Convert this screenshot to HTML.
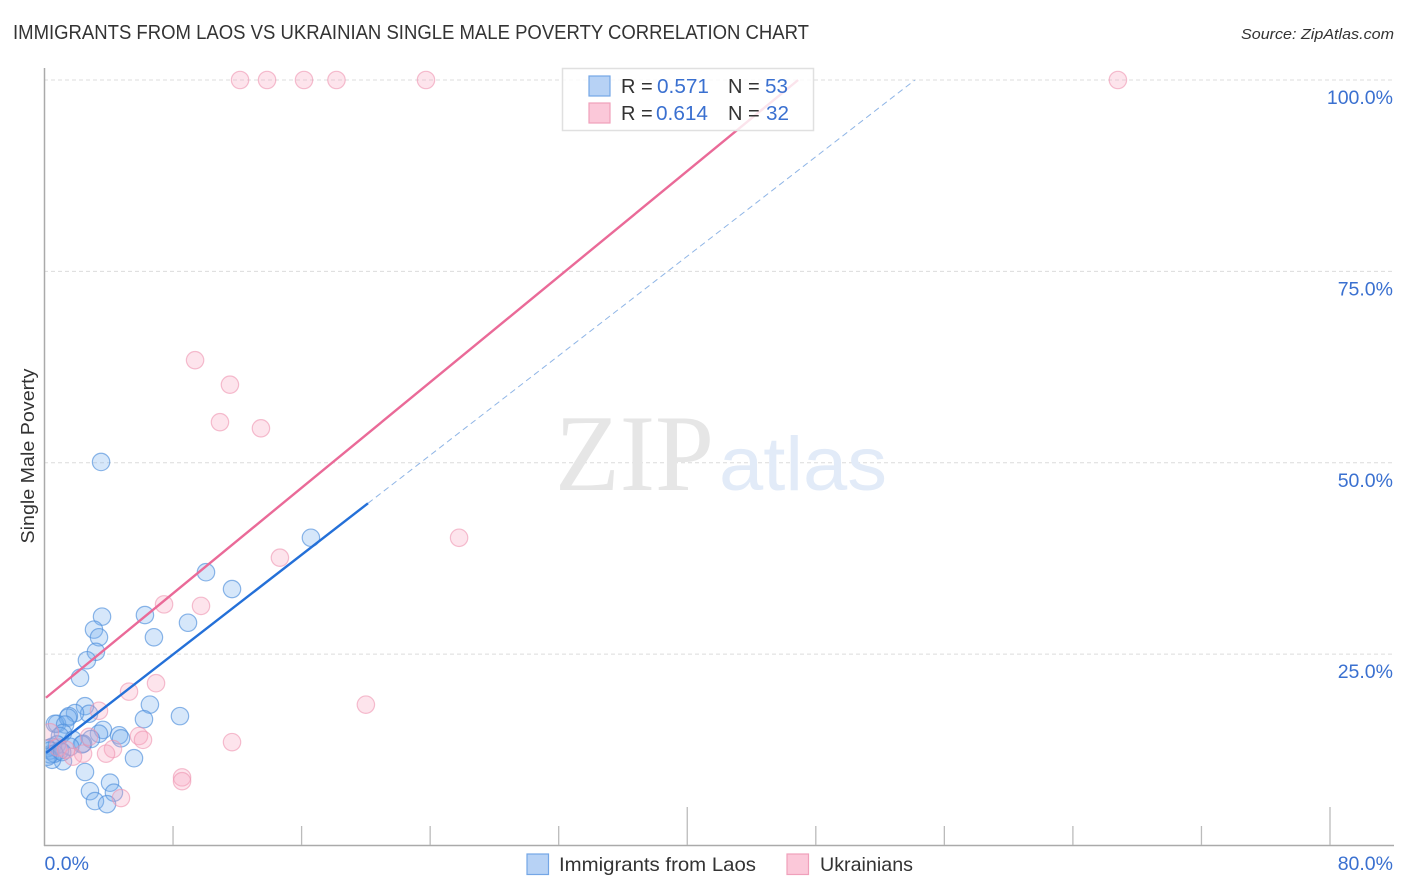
<!DOCTYPE html>
<html lang="en">
<head>
<meta charset="utf-8">
<title>Immigrants from Laos vs Ukrainian Single Male Poverty Correlation Chart</title>
<style>
html,body{margin:0;padding:0;background:#fff;width:1406px;height:892px;overflow:hidden}
svg{display:block}
text{font-family:"Liberation Sans",sans-serif}
</style>
</head>
<body>
<svg id="chart" xmlns="http://www.w3.org/2000/svg" width="1406" height="892" viewBox="0 0 1406 892">
  <defs>
    <clipPath id="plot-clip"><rect x="45.5" y="60" width="1349" height="785"/></clipPath>
  </defs>
  <rect x="0" y="0" width="1406" height="892" fill="#fff"/>
  <text x="13" y="39" font-size="20" fill="#333" textLength="796" lengthAdjust="spacingAndGlyphs">IMMIGRANTS FROM LAOS VS UKRAINIAN SINGLE MALE POVERTY CORRELATION CHART</text>
  <text x="1241" y="39" font-size="15" font-style="italic" fill="#333" textLength="153" lengthAdjust="spacingAndGlyphs">Source: ZipAtlas.com</text>
  <g id="grid"></g>
  <g>
    <text x="555" y="490" font-size="109" fill="#e6e6e6" textLength="159" lengthAdjust="spacingAndGlyphs" style="font-family:'Liberation Serif',serif">ZIP</text>
    <text x="719" y="490" font-size="76" fill="#e2ebf8" textLength="168" lengthAdjust="spacingAndGlyphs">atlas</text>
  </g>
  <g id="axes"></g>
  <g id="points" clip-path="url(#plot-clip)"></g>
  <g id="trends"></g>
  <g>
    <rect x="562.5" y="68.5" width="251" height="62" fill="#fff" fill-opacity="0.82" stroke="#e0e0e0" stroke-width="1.5"/>
    <rect x="589" y="76" width="21" height="20" fill="#b7d2f5" stroke="#74a6e6" stroke-width="1.2"/>
    <rect x="589" y="103" width="21" height="20" fill="#fbc8d9" stroke="#f0a0bb" stroke-width="1.2"/>
    <text x="621" y="93" font-size="20" fill="#333">R =</text>
    <text x="657" y="93" font-size="20.5" fill="#3a70d0" textLength="52" lengthAdjust="spacingAndGlyphs">0.571</text>
    <text x="728" y="93" font-size="20" fill="#333">N =</text>
    <text x="765" y="93" font-size="20.5" fill="#3a70d0" textLength="23" lengthAdjust="spacingAndGlyphs">53</text>
    <text x="621" y="120" font-size="20" fill="#333">R =</text>
    <text x="656" y="120" font-size="20.5" fill="#3a70d0" textLength="52" lengthAdjust="spacingAndGlyphs">0.614</text>
    <text x="728" y="120" font-size="20" fill="#333">N =</text>
    <text x="766" y="120" font-size="20.5" fill="#3a70d0" textLength="23" lengthAdjust="spacingAndGlyphs">32</text>
  </g>
  <text transform="translate(34 456) rotate(-90)" text-anchor="middle" font-size="18.5" fill="#333" textLength="175" lengthAdjust="spacingAndGlyphs">Single Male Poverty</text>
  <g>
    <rect x="527" y="854" width="21.5" height="20.5" fill="#b7d2f5" stroke="#74a6e6" stroke-width="1.2"/>
    <text x="559" y="871" font-size="19.5" fill="#333" textLength="197" lengthAdjust="spacingAndGlyphs">Immigrants from Laos</text>
    <rect x="787" y="854" width="21.5" height="20.5" fill="#fbc8d9" stroke="#f0a0bb" stroke-width="1.2"/>
    <text x="820" y="871" font-size="19.5" fill="#333" textLength="93" lengthAdjust="spacingAndGlyphs">Ukrainians</text>
  </g>
</svg>
<script>
var yTickValues = [25, 50, 75, 100];
var yTickLabels = ["25.0%", "50.0%", "75.0%", "100.0%"];
var xTickValues = [0, 8, 16, 24, 32, 40, 48, 56, 64, 72, 80];
var xMajorTicks = [40, 80];
var xEndValues = [0, 80];
var xEndLabels = ["0.0%", "80.0%"];

var laosX = [3.52,16.58,10.05,11.67,3.58,6.25,8.93,3.08,3.39,6.81,3.2,2.64,2.21,6.56,6.19,8.43,2.52,2.77,1.9,1.52,0.78,3.64,4.64,4.76,3.39,2.89,2.4,5.57,2.52,4.08,4.32,2.83,3.14,3.89,1.15,0.47,0.65,1.46,1.28,1.15,0.96,0.47,0.34,1.78,2.33,0.78,0.16,0.34,0.96,0.62,1.6,0.2,1.1];
var laosY = [50.1,40.2,35.7,33.5,29.9,30.1,29.1,28.2,27.2,27.2,25.3,24.2,21.9,18.4,16.5,16.9,18.2,17.2,17.3,16.9,15.9,15.1,14.4,14.0,14.6,13.9,13.3,11.4,9.6,8.2,6.9,7.1,5.8,5.4,11.0,11.2,15.9,16.7,15.8,14.7,14.3,12.9,11.9,13.8,13.2,13.2,12.7,12.4,12.4,12.0,12.9,11.6,12.2];
var ukrX = [12.17,13.85,16.15,18.17,23.74,66.8,9.37,11.54,10.92,13.47,25.8,14.65,7.44,9.74,6.94,5.26,20.0,3.39,11.67,5.88,6.13,4.26,3.83,8.56,8.56,4.76,2.77,2.4,1.77,0.34,0.84,1.34];
var ukrY = [100,100,100,100,100,100,63.4,60.2,55.3,54.5,40.2,37.6,31.5,31.3,21.2,20.1,18.4,17.6,13.5,14.3,13.8,12.6,12.0,8.9,8.4,6.2,14.2,12.0,11.6,14.8,12.8,12.5];

var laosTrendX = [0.1, 20.13];
var laosTrendY = [12.1, 44.7];
var laosDashX = [20.13, 54.17];
var laosDashY = [44.7, 100];
var ukrTrendX = [0.09, 46.9];
var ukrTrendY = [19.3, 100];

var NS = "http://www.w3.org/2000/svg";
function sx(v) { return 44.5 + v * (1330 - 44.5) / 80; }
function sy(v) { return 845.5 - v * (845.5 - 80) / 100; }
function mk(tag, attrs, parent) {
  var el = document.createElementNS(NS, tag);
  for (var k in attrs) el.setAttribute(k, attrs[k]);
  parent.appendChild(el);
  return el;
}
var grid = document.getElementById("grid");
var axes = document.getElementById("axes");
var trends = document.getElementById("trends");
var points = document.getElementById("points");

yTickValues.forEach(function (v, i) {
  var line = mk("line", {x1: 44, x2: 1394, y1: sy(v), y2: sy(v), stroke: "#dcdcdc", "stroke-width": 1, "stroke-dasharray": "4 3"}, grid);
  
  
  var t = mk("text", {x: 1393, y: sy(v) + 24, "text-anchor": "end", "font-size": 19.5, fill: "#3a70d0"}, axes);
  t.textContent = yTickLabels[i];
  
  
});

var yAxis = mk("line", {x1: 44.5, x2: 44.5, y1: 68, y2: 846, stroke: "#aaa", "stroke-width": 1.5}, axes);


var xAxis = mk("line", {x1: 44, x2: 1394, y1: 845.5, y2: 845.5, stroke: "#aaa", "stroke-width": 1.5}, axes);



xTickValues.forEach(function (v) {
  if (v === 0) return;
  var top = xMajorTicks.indexOf(v) >= 0 ? 807 : 826;
  var tick = mk("line", {x1: sx(v), x2: sx(v), y1: top, y2: 845, stroke: "#bbb", "stroke-width": 1.3}, axes);
  
  
});

xEndValues.forEach(function (v, i) {
  var t = mk("text", {x: i === 0 ? sx(v) : 1393, y: 870, "text-anchor": i === 0 ? "start" : "end", "font-size": 19.5, fill: "#3a70d0"}, axes);
  t.textContent = xEndLabels[i];
  
  
});

function drawPoints(xs, ys, fill, stroke, strokeOpacity, name) {
  xs.forEach(function (x, i) {
    var c = mk("circle", {cx: sx(x), cy: sy(ys[i]), r: 8.7, fill: fill, "fill-opacity": 0.3, stroke: stroke, "stroke-opacity": strokeOpacity, "stroke-width": 1.2}, points);
    
    
  });
}
drawPoints(laosX, laosY, "#78aeef", "#4f8fdc", 0.65, "laos-point");
drawPoints(ukrX, ukrY, "#f8a5c0", "#ee94b0", 0.6, "ukrainians-point");

var dash = mk("line", {x1: sx(laosDashX[0]), y1: sy(laosDashY[0]), x2: sx(laosDashX[1]), y2: sy(laosDashY[1]), stroke: "#8fb5e6", "stroke-width": 1, "stroke-dasharray": "6 4"}, trends);


var laosLine = mk("line", {x1: sx(laosTrendX[0]), y1: sy(laosTrendY[0]), x2: sx(laosTrendX[1]), y2: sy(laosTrendY[1]), stroke: "#2470d8", "stroke-width": 2.4}, trends);


var ukrLine = mk("line", {x1: sx(ukrTrendX[0]), y1: sy(ukrTrendY[0]), x2: sx(ukrTrendX[1]), y2: sy(ukrTrendY[1]), stroke: "#ea6a98", "stroke-width": 2.4}, trends);


</script>
</body>
</html>
